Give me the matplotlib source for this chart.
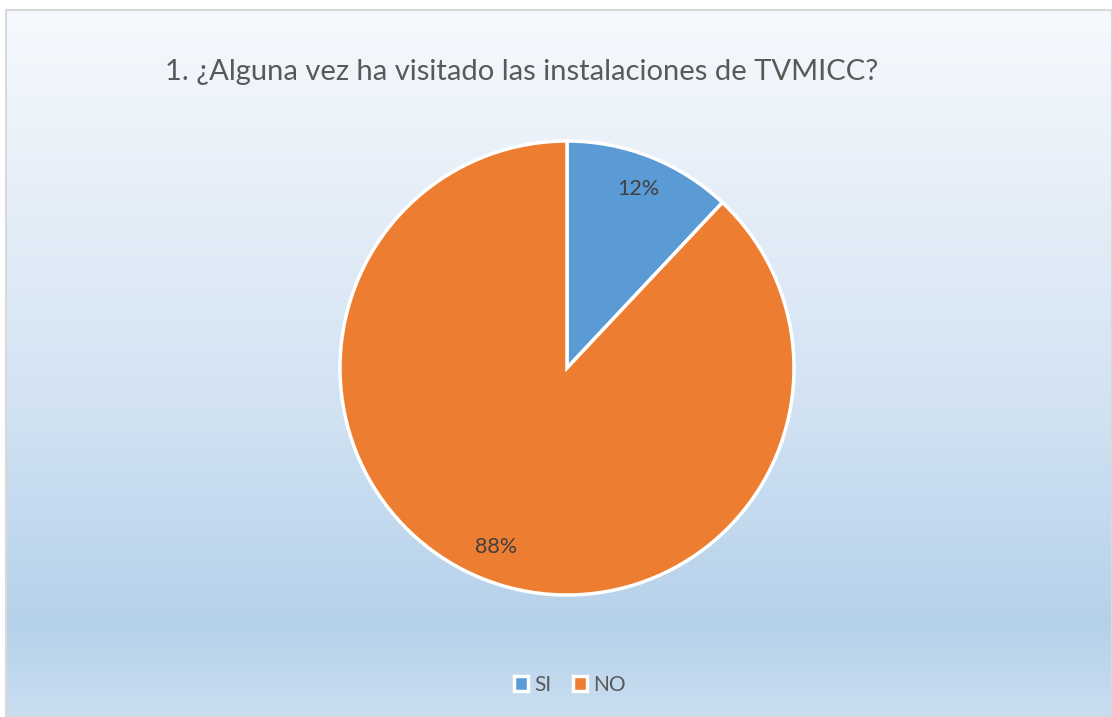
import numpy as np
import matplotlib
matplotlib.use("Agg")
import matplotlib.pyplot as plt
from matplotlib.colors import LinearSegmentedColormap
from matplotlib.patches import Rectangle

title = "1. ¿Alguna vez ha visitado las instalaciones de TVMICC?"
labels = ["SI", "NO"]
values = [12, 88]
colors = ["#5b9bd5", "#ed7d31"]

W, H, dpi = 1112, 717, 100
fig = plt.figure(figsize=(W / dpi, H / dpi), dpi=dpi)
fig.patch.set_facecolor("white")

# gradient background of the chart area
x0, y0 = 6 / W, 0
bw, bh = 1 - x0, (H - 10) / H
bg = fig.add_axes([x0, y0, bw, bh])
cmap = LinearSegmentedColormap.from_list(
    "bg", [(0, "#f6f9fd"), (0.55, "#d3e3f3"), (0.87, "#b5d1ea"), (1.0, "#cadef0")])
grad = np.linspace(0, 1, 256).reshape(-1, 1)
bg.imshow(grad, aspect="auto", cmap=cmap, extent=[0, 1, 1, 0])
bg.set_xlim(0, 1)
bg.set_ylim(1, 0)
bg.axis("off")
fig.patches.append(Rectangle((x0, y0), bw, bh, transform=fig.transFigure,
                             fill=False, edgecolor="#d9d9d9", linewidth=1.5))

fig.text(522 / W, 1 - 72 / H, title, ha="center", va="center",
         fontsize=21, color="#595959", family="Lato")

# pie
r = 227
cx, cy = 567, 368
ax = fig.add_axes([(cx - r) / W, 1 - (cy + r) / H, 2 * r / W, 2 * r / H])
wedges, texts, autotexts = ax.pie(
    values, colors=colors, startangle=90, counterclock=False,
    autopct="%d%%", pctdistance=0.85,
    wedgeprops=dict(edgecolor="white", linewidth=2.5),
    textprops=dict(fontsize=15.5, color="#404040", family="Lato"))
ax.set_xlim(-1, 1)
ax.set_ylim(-1, 1)
ax.set_aspect("equal")

leg = fig.legend(wedges, labels, loc="center", bbox_to_anchor=(570 / W, 1 - 685 / H),
                 ncol=2, frameon=False, handlelength=0.7, handleheight=0.7,
                 handletextpad=0.3, columnspacing=1.0, prop=dict(family="Lato", size=15))
for t in leg.get_texts():
    t.set_color("#595959")

fig.savefig("out.png", dpi=dpi)
